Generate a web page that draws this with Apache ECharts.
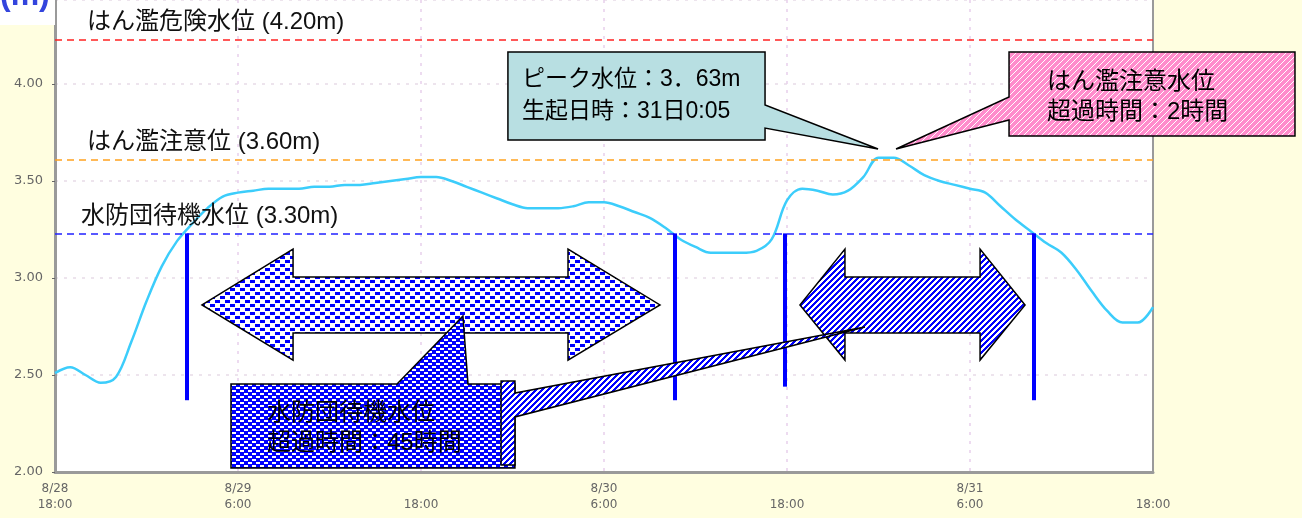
<!DOCTYPE html>
<html>
<head>
<meta charset="utf-8">
<script src="https://cdn.jsdelivr.net/npm/echarts@6/dist/echarts.min.js"></script>
<style>
html,body{margin:0;padding:0;background:#fffee0;}
#c{width:1302px;height:518px;}
</style>
</head>
<body>
<div id="c"></div>
<script>
// ---------------- data ----------------
// hourly water level (m), from 8/28 18:00 (hour 0) to 8/31 18:00 (hour 72)
const levels = [
  2.51, 2.54, 2.50, 2.46, 2.49, 2.67, 2.88, 3.06, 3.19, 3.28,
  3.36, 3.42, 3.44, 3.45, 3.46, 3.46, 3.46, 3.47, 3.47, 3.48,
  3.48, 3.49, 3.50, 3.51, 3.52, 3.52, 3.50, 3.47, 3.44, 3.41,
  3.38, 3.36, 3.36, 3.36, 3.37, 3.39, 3.39, 3.37, 3.34, 3.31,
  3.26, 3.20, 3.16, 3.13, 3.13, 3.13, 3.14, 3.20, 3.40, 3.46,
  3.45, 3.43, 3.45, 3.52, 3.62, 3.62, 3.58, 3.53, 3.50, 3.48,
  3.46, 3.44, 3.37, 3.30, 3.24, 3.18, 3.13, 3.04, 2.93, 2.83,
  2.77, 2.77, 2.85
];
const tickLabels = ['8/28\n18:00', '8/29\n6:00', '\n18:00', '8/30\n6:00', '\n18:00', '8/31\n6:00', '\n18:00'];
const thresholdNames = ['はん濫危険水位 (4.20m)', 'はん濫注意位 (3.60m)', '水防団待機水位 (3.30m)'];
const thresholdValues = [4.23, 3.61, 3.23];
// hours at which the level crosses the 水防団待機 line, and the lower end of each marker bar
const crossingHours = [8.66, 40.66, 47.87, 64.2];
const crossingBottoms = [2.37, 2.37, 2.44, 2.37];
const calloutTexts = [
  'ピーク水位：3．63m\n生起日時：31日0:05',
  'はん濫注意水位\n超過時間：2時間',
  '水防団待機水位\n超過時間：45時間'
];

// ---------------- styles ----------------
const thresholdColors = ['#ff2222', '#ffa21f', '#2222ff'];
const thresholdLabelOffsets = [32, 32, 26];
const JP = '"Liberation Sans", "Noto Sans CJK JP", sans-serif';

const chart = echarts.init(document.getElementById('c'), null, {renderer: 'canvas'});

const series = [{
  type: 'line',
  data: levels.map((v, i) => [i, v]),
  smooth: 0.35,
  showSymbol: false,
  lineStyle: {color: '#3ccdfb', width: 2.5},
  z: 3,
  markLine: {
    silent: true,
    symbol: 'none',
    animation: false,
    data: thresholdValues.map((v, i) => ({
      yAxis: v,
      lineStyle: {color: thresholdColors[i], type: [7, 5], width: 1.6},
      label: {
        show: true, formatter: thresholdNames[i], position: 'insideStartTop',
        distance: [thresholdLabelOffsets[i], 5], color: '#111', fontSize: 24, fontFamily: JP
      }
    })).concat(crossingHours.map((h, i) => [
      {coord: [h, thresholdValues[2]], lineStyle: {color: '#0000ff', width: 4, type: 'solid'}, label: {show: false}},
      {coord: [h, crossingBottoms[i]]}
    ]))
  }
}];

chart.setOption({
  animation: false,
  backgroundColor: '#fffee0',
  grid: {left: 55, right: 149, top: 0, bottom: 46, show: true, backgroundColor: '#ffffff', borderWidth: 0},
  xAxis: {
    type: 'value', min: 0, max: 72, interval: 12,
    axisLine: {show: true, lineStyle: {color: '#9a9a9a', width: 3}},
    axisTick: {show: false},
    axisLabel: {
      formatter: v => tickLabels[Math.round(v / 12)],
      color: '#666', fontSize: 12, lineHeight: 16, margin: 9, fontFamily: 'DejaVu Sans'
    },
    splitLine: {show: true, lineStyle: {color: '#e8d0ec', type: [3, 6], width: 1.5}}
  },
  yAxis: [{
    type: 'value', min: 2, max: 4.433, interval: 0.5,
    axisLine: {show: true, lineStyle: {color: '#9a9a9a', width: 3}},
    axisTick: {show: true, length: 3, lineStyle: {color: '#666'}},
    axisLabel: {formatter: v => v.toFixed(2), color: '#666', fontSize: 13, margin: 12, fontFamily: 'DejaVu Sans', showMaxLabel: false},
    splitLine: {show: true, lineStyle: {color: '#e8dce8', type: [3, 6], width: 1.5}}
  }, {
    type: 'value', min: 2, max: 4.433, position: 'right',
    axisLine: {show: true, lineStyle: {color: '#9a9a9a', width: 2}},
    axisTick: {show: false}, axisLabel: {show: false}, splitLine: {show: false}
  }],
  series: series
});

// ---------------- pattern fills ----------------
function tile(w, h, draw) {
  const c = document.createElement('canvas');
  c.width = w; c.height = h;
  draw(c.getContext('2d'));
  return {image: c, repeat: 'repeat'};
}
const dashPat = tile(10, 8, g => {
  g.fillStyle = '#fff'; g.fillRect(0, 0, 10, 8);
  g.fillStyle = '#0000ff';
  g.fillRect(0, 0, 5, 3); g.fillRect(5, 4, 5, 3);
});
const checkPat = tile(8, 6, g => {
  g.fillStyle = '#0000ff'; g.fillRect(0, 0, 8, 6);
  g.fillStyle = '#fff';
  g.fillRect(0, 0, 4, 2); g.fillRect(4, 3, 4, 2);
});
const diagPat = tile(6, 6, g => {
  g.fillStyle = '#fff'; g.fillRect(0, 0, 6, 6);
  g.fillStyle = '#0000ff';
  for (let x = 0; x < 6; x++) for (let y = 0; y < 6; y++) if ((x + y) % 6 < 3) g.fillRect(x, y, 1, 1);
});
const pinkPat = tile(6, 6, g => {
  g.fillStyle = '#ff8ccc'; g.fillRect(0, 0, 6, 6);
  g.fillStyle = '#fff';
  for (let x = 0; x < 6; x++) for (let y = 0; y < 6; y++) if ((x + y) % 6 === 0) g.fillRect(x, y, 1, 1);
});

// ---------------- annotations (anchored in data coordinates: [hour, level]) ----------------
const P = (h, v) => chart.convertToPixel({gridIndex: 0}, [h, v]);
function arrow(x0, x1, x2, x3) {
  return [[x0, 2.861], [x1, 3.149], [x1, 3.005], [x2, 3.005], [x2, 3.149], [x3, 2.861],
          [x2, 2.577], [x2, 2.716], [x1, 2.716], [x1, 2.577]];
}
const shapes = [
  {pts: arrow(9.64, 15.61, 33.64, 39.67), fill: dashPat},
  {pts: arrow(48.85, 51.80, 60.66, 63.61), fill: diagPat},
  {pts: [[11.54, 2.454], [22.43, 2.454], [26.75, 2.804], [27.08, 2.454], [30.16, 2.454], [30.16, 2.021], [11.54, 2.021]], fill: checkPat},
  {pts: [[29.25, 2.469], [30.16, 2.469], [30.16, 2.407], [53.11, 2.747], [30.16, 2.284], [30.16, 2.036], [29.25, 2.036]], fill: diagPat},
  {pts: [[29.70, 4.165], [46.56, 4.165], [46.56, 3.892], [53.97, 3.665], [46.56, 3.773], [46.56, 3.711], [29.70, 3.711]], fill: '#b8dfe2'},
  {pts: [[62.56, 4.165], [81.31, 4.165], [81.31, 3.732], [62.56, 3.732], [62.56, 3.814], [55.15, 3.665], [62.56, 3.933]], fill: pinkPat}
];
const texts = [
  {at: [30.62, 3.938], text: calloutTexts[0], size: 23, lh: 32},
  {at: [65.05, 3.933], text: calloutTexts[1], size: 24, lh: 30},
  {at: [13.90, 2.2265], text: calloutTexts[2], size: 24, lh: 30}
];

const elements = [];
shapes.forEach((s, i) => {
  elements.push({
    type: 'polygon', z: 100 + i, silent: true,
    shape: {points: s.pts.map(p => P(p[0], p[1]))},
    style: {fill: s.fill, stroke: '#000', lineWidth: 1.5, lineJoin: 'miter'}
  });
});
texts.forEach((t, i) => {
  const p = P(t.at[0], t.at[1]);
  elements.push({
    type: 'text', z: 200 + i, silent: true,
    style: {
      text: t.text, x: p[0], y: p[1], fill: '#000',
      font: t.size + 'px ' + JP, fontSize: t.size, fontFamily: JP, lineHeight: t.lh,
      align: 'left', verticalAlign: 'middle', textAlign: 'left', textVerticalAlign: 'middle'
    }
  });
});
// unit label in the top-left corner
elements.push({type: 'rect', z: 90, silent: true, shape: {x: 0, y: 0, width: 55, height: 25}, style: {fill: '#ffffff'}});
elements.push({
  type: 'text', z: 91, silent: true,
  style: {text: '(m)', x: 0, y: 12, fill: '#3344dd', font: 'bold 32px "Liberation Sans", sans-serif',
          align: 'left', verticalAlign: 'bottom', textAlign: 'left', textVerticalAlign: 'bottom'}
});

chart.setOption({graphic: {elements: elements}});
</script>
</body>
</html>
